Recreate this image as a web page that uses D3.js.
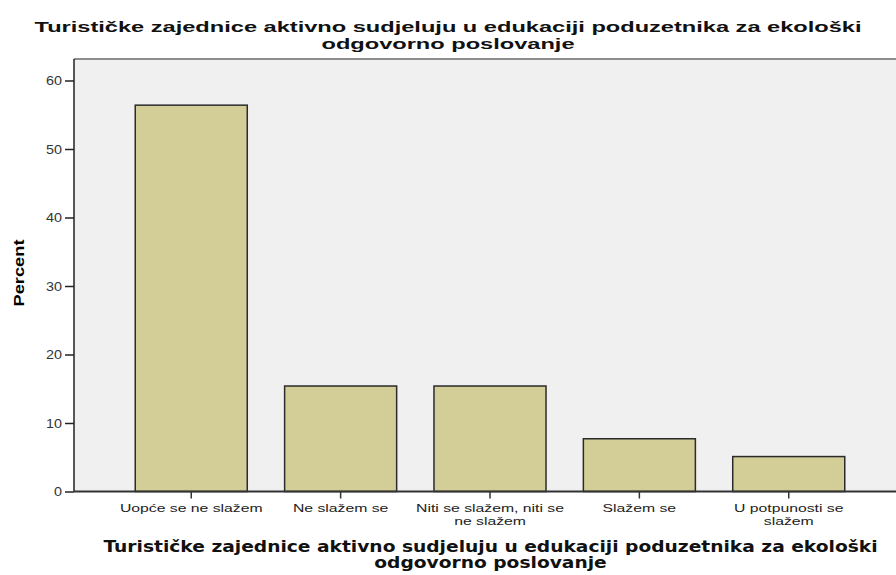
<!DOCTYPE html>
<meta charset="utf-8">
<style>
  body { margin: 0; background: #fff; }
  svg { display: block; }
</style>
<body>
<div id="chart"></div>
<script src="https://d3js.org/d3.v7.min.js"></script>
<script>
// data (n = 39)
var categories = ["Uopće se ne slažem", "Ne slažem se", "Niti se slažem, niti se ne slažem", "Slažem se", "U potpunosti se slažem"];
var labelLines = [["Uopće se ne slažem"], ["Ne slažem se"], ["Niti se slažem, niti se", "ne slažem"], ["Slažem se"], ["U potpunosti se", "slažem"]];
var percents = [56.4, 15.4, 15.4, 7.7, 5.1];
var yTicks = [0, 10, 20, 30, 40, 50, 60];
var titleLines = ["Turističke zajednice aktivno sudjeluju u edukaciji poduzetnika za ekološki", "odgovorno poslovanje"];

var width = 896, height = 575;
var mLeft = 74, mTop = 59, mBottom = 491.5, mRight = 906;
var sans = "Liberation Sans, Arial, sans-serif";

var svg = d3.select("#chart").append("svg")
    .attr("width", width)
    .attr("height", height);

var x = d3.scaleBand()
    .domain(categories)
    .range([mLeft, mRight])
    .paddingInner(0.25)
    .paddingOuter(0.41);

var y = d3.scaleLinear()
    .domain([0, 60])
    .range([mBottom, 80.5]);

// plot background
svg.append("rect")
    .attr("x", mLeft).attr("y", mTop)
    .attr("width", width - mLeft).attr("height", mBottom - mTop)
    .attr("fill", "#f0f0f0");

svg.append("line")
    .attr("x1", mLeft).attr("x2", width)
    .attr("y1", mTop).attr("y2", mTop)
    .attr("stroke", "#8c8c8c").attr("stroke-width", 2);

// bars
svg.append("g").selectAll("rect")
    .data(percents)
  .enter().append("rect")
    .attr("x", function(d, i) { return x(categories[i]); })
    .attr("y", function(d) { return y(d); })
    .attr("width", x.bandwidth())
    .attr("height", function(d) { return mBottom - y(d); })
    .attr("fill", "#d3ce97")
    .attr("stroke", "#2b2b2b")
    .attr("stroke-width", 1.5);

// y axis
var yAxis = svg.append("g")
    .attr("transform", "translate(" + mLeft + ",0)")
    .call(d3.axisLeft(y).tickValues(yTicks).tickSize(9));
yAxis.select(".domain").attr("d", "M0," + mTop + "V" + mBottom).attr("stroke", "#222").attr("stroke-width", 1.5);
yAxis.selectAll(".tick line").attr("stroke", "#222").attr("stroke-width", 1.5);
yAxis.selectAll(".tick text")
    .attr("x", 0)
    .attr("transform", "translate(-12,0) scale(1.15,1)")
    .attr("font-family", sans)
    .attr("font-size", 12.5)
    .attr("fill", "#333");

// x axis
var xAxis = svg.append("g")
    .attr("transform", "translate(0," + mBottom + ")")
    .call(d3.axisBottom(x).tickSize(7).tickFormat(""));
xAxis.select(".domain").attr("d", "M" + mLeft + ",0H" + width).attr("stroke", "#333").attr("stroke-width", 2);
xAxis.selectAll(".tick line").attr("stroke", "#333").attr("stroke-width", 1.5);

xAxis.selectAll(".tick").each(function(d, i) {
  var t = d3.select(this).append("text")
      .attr("text-anchor", "middle")
      .attr("font-family", sans)
      .attr("font-size", 11.5)
      .attr("fill", "#222")
      .attr("transform", "scale(1.37,1)")
      .attr("y", 21);
  labelLines[i].forEach(function(s, j) {
    t.append("tspan").attr("x", 0).attr("dy", j ? 12.5 : 0).text(s);
  });
});

// y label
svg.append("text")
    .attr("transform", "translate(24,273) rotate(-90) scale(1.22,1)")
    .attr("text-anchor", "middle")
    .attr("font-family", sans)
    .attr("font-weight", "bold")
    .attr("font-size", 15)
    .text("Percent");

// stretched two-line title, first line fitted to a target width
function title(cx, y0, lh, family, size, target) {
  var g = svg.append("g").attr("transform", "translate(" + cx + ",0)");
  var t = g.append("text")
      .attr("text-anchor", "middle")
      .attr("font-family", family)
      .attr("font-weight", "bold")
      .attr("font-size", size)
      .attr("fill", "#111");
  titleLines.forEach(function(s, j) {
    t.append("tspan").attr("x", 0).attr("y", y0 + j * lh).text(s);
  });
  var w = t.select("tspan").node().getComputedTextLength();
  t.attr("transform", "scale(" + (target / w) + ",1)");
}

title(448, 32.5, 17, sans, 15, 828);
title(490.5, 552, 16.5, "DejaVu Sans, Verdana, sans-serif", 15, 775);
</script>
</body>
